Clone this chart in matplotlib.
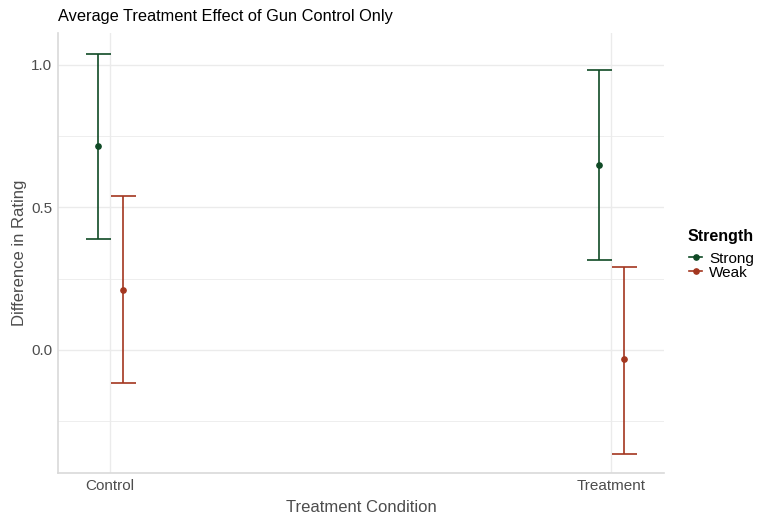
import numpy as np
import matplotlib
matplotlib.use("Agg")
import matplotlib.pyplot as plt
from matplotlib.lines import Line2D

# 数据：处理条件 × 强度
conditions = ["Control", "Treatment"]
strengths = ["Strong", "Weak"]
estimate = {"Strong": [0.716, 0.649], "Weak": [0.211, -0.032]}
lower = {"Strong": [0.389, 0.316], "Weak": [-0.116, -0.365]}
upper = {"Strong": [1.039, 0.982], "Weak": [0.540, 0.291]}

colors = {"Strong": "#0f4a25", "Weak": "#a3361f"}
dodge = {"Strong": -0.025, "Weak": 0.025}

plt.rcParams["font.family"] = ["Liberation Sans", "DejaVu Sans"]

fig = plt.figure(figsize=(7.59, 5.14), dpi=100)
ax = fig.add_axes([58 / 759, 41 / 514, 606 / 759, 440 / 514])

x = np.arange(1, len(conditions) + 1)

for s in strengths:
    xs = x + dodge[s]
    est = np.array(estimate[s])
    yerr = [est - np.array(lower[s]), np.array(upper[s]) - est]
    ax.errorbar(xs, est, yerr=yerr, fmt="o", color=colors[s], ecolor=colors[s],
                elinewidth=1.2, capsize=9, capthick=1.2, markersize=3.8, zorder=3)

ax.set_xlim(0.896, 2.105)
ax.set_ylim(-0.432, 1.112)
ax.set_xticks(x)
ax.set_xticklabels(conditions)
ax.set_yticks([0.0, 0.5, 1.0])
ax.set_yticklabels(["0.0", "0.5", "1.0"])
ax.set_yticks([-0.25, 0.25, 0.75], minor=True)

ax.grid(True, which="major", color="#EBEBEB", linewidth=1.0)
ax.grid(True, which="minor", axis="y", color="#EBEBEB", linewidth=0.6)
ax.set_axisbelow(True)
ax.tick_params(which="both", length=0, labelsize=11, labelcolor="#4D4D4D", pad=4)

for side in ["top", "right"]:
    ax.spines[side].set_visible(False)
for side in ["left", "bottom"]:
    ax.spines[side].set_color("#D9D9D9")
    ax.spines[side].set_linewidth(1.2)

ax.set_xlabel("Treatment Condition", fontsize=12, color="#4D4D4D", labelpad=5)
ax.set_ylabel("Difference in Rating", fontsize=12, color="#4D4D4D", labelpad=3)
ax.set_title("Average Treatment Effect of Gun Control Only", fontsize=11.8, loc="left",
             x=0.0, pad=9)

# 图例：标题单独写，条目用 legend
fig.text(688 / 759, 1 - 237 / 514, "Strength", fontsize=11.5, fontweight="bold",
         ha="left", va="center")
handles = [Line2D([0], [0], color=colors[s], marker="o", markersize=3.8, linewidth=1.2)
           for s in strengths]
leg = fig.legend(handles, strengths, loc="upper left", bbox_to_anchor=(678 / 759, 1 - 241 / 514),
                 frameon=False, fontsize=11,
                 handlelength=0.9, handletextpad=0.45, labelspacing=0.0, borderpad=0.2)

fig.savefig("out.png", dpi=100)
